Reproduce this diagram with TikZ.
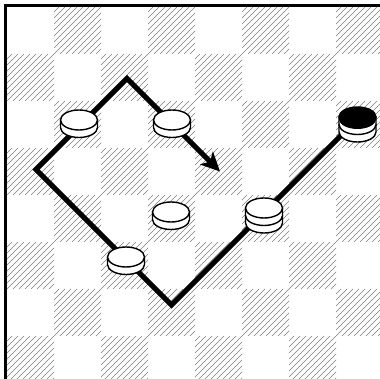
\documentclass[tikz,border=0pt]{standalone}
\usetikzlibrary{arrows.meta}
\tikzset{
  hatch/.style={draw=black!50, line width=0.6pt},
  frameline/.style={line width=3pt},
  movepath/.style={line width=5pt, line join=miter},
  piece/.style={draw=black, line width=1.4pt},
}
\newcommand\cklayer[3]{%
  \filldraw[piece,fill=#3] ({#1-18.5},{#2}) -- ({#1-18.5},{#2+7.5})
    arc[start angle=180,end angle=0,x radius=18.5,y radius=10] -- ({#1+18.5},{#2}) -- cycle;}
\newcommand\cktop[3]{%
  \filldraw[piece,fill=#3] (#1,#2) ellipse [x radius=18.5, y radius=10];}
\newcommand\cksingle[2]{\cklayer{#1}{#2}{white}\cktop{#1}{#2}{white}}
\newcommand\ckdouble[2]{\cklayer{#1}{#2+7.5}{white}\cklayer{#1}{#2}{white}\cktop{#1}{#2}{white}}
\begin{document}
\begin{tikzpicture}[x=1pt,y=-1pt]
\useasboundingbox (0,0) rectangle (380,379);
\clip (0,0) rectangle (380,379);
\fill[white] (0,0) rectangle (380,379);
% hatched squares
\foreach \r in {0,...,7}{
  \foreach \k in {0,...,3}{
    \pgfmathtruncatemacro\c{2*\k+1-mod(\r,2)}
    \pgfmathsetmacro\xo{7+47*\c}
    \pgfmathsetmacro\yo{7+47*\r}
    \begin{scope}
      \clip (\xo,\yo) rectangle ++(47,47);
      \foreach \t in {-48,-42,...,48}
        \draw[hatch] ({\xo+\t},{\yo+47}) -- ++(47,-47);
    \end{scope}
  }
}
% frame
\draw[frameline] (5.5,400) -- (5.5,5.5) -- (400,5.5);
% move path
\coordinate (s) at (357.5,119);
\coordinate (vb) at (171.5,305);
\coordinate (vl) at (36,169.5);
\coordinate (vt) at (127,78.5);
\coordinate (e) at (220,171.5);
\draw[movepath,-{Stealth[length=19pt,width=18pt,inset=5pt]}] (s) -- (vb) -- (vl) -- (vt) -- (e);
% pieces
\coordinate (pA) at (79,120);
\coordinate (pB) at (172,120);
\coordinate (pC) at (171,212);
\coordinate (pD) at (126,257);
\coordinate (pE) at (264,208);
\coordinate (pK) at (357.5,117);
\cksingle{79}{120}
\cksingle{172}{120}
\cksingle{171}{212}
\cksingle{126}{257}
\ckdouble{264}{208}
% black-topped stack
\cklayer{357.5}{124.5}{white}
\cklayer{357.5}{117}{white}
\fill[black] (339,117) -- (339,119)
  arc[start angle=180,end angle=0,x radius=18.5,y radius=10] -- (376,117) -- cycle;
\cktop{357.5}{117}{black}
\end{tikzpicture}
\end{document}
